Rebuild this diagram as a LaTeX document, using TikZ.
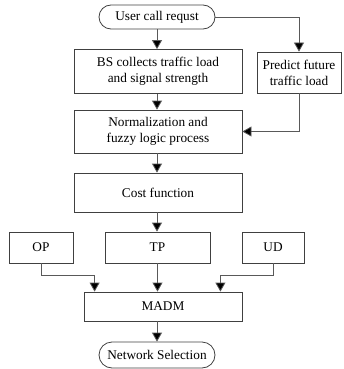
\documentclass[tikz,border=0pt]{standalone}
\usepackage{fontspec}
\setmainfont{Liberation Serif}
\usetikzlibrary{shapes.misc,arrows.meta}
\begin{document}
\begin{tikzpicture}[x=1pt,y=1pt,
  box/.style={draw=black!75, line width=0.8pt, minimum width=#1, align=center, inner sep=2pt, font=\fontsize{13.3}{16}\selectfont},
  term/.style={draw=black!75, line width=0.8pt, rounded rectangle, minimum width=#1, inner sep=2pt, font=\fontsize{13.3}{16}\selectfont},
  conn/.style={draw=black!65, line width=0.8pt, -{Triangle[width=10pt,length=9pt,fill=black]}}
]
\useasboundingbox (0,0) rectangle (343,-369);
\node[term=120pt, minimum height=24pt] (uc) at (157,-17) {User call requst};
\node[box=168pt, minimum height=44pt] (bs) at (158,-71.5) {BS collects traffic load\\and signal strength};
\node[box=84pt, minimum height=41pt] (pr) at (299,-72.5) {Predict future\\traffic load};
\node[box=168pt, minimum height=43pt] (nm) at (158,-131.5) {Normalization and\\fuzzy logic process};
\node[box=168pt, minimum height=39pt] (cf) at (158,-192.5) {Cost function};
\node[box=64pt, minimum height=31pt] (op) at (41,-247.5) {OP};
\node[box=105pt, minimum height=31pt] (tp) at (157.5,-247.5) {TP};
\node[box=62pt, minimum height=31pt] (ud) at (273,-247.5) {UD};
\node[box=158pt, minimum height=29pt] (md) at (163,-306.5) {MADM};
\node[term=120pt, minimum height=26pt] (ns) at (157,-355) {Network Selection};

\draw[conn] (uc.south) -- (uc.south |- bs.north);
\draw[conn] (uc.east) -| (pr.north);
\draw[conn] (uc.south |- bs.south) -- (uc.south |- nm.north);
\draw[conn] (pr.south) |- (nm.east);
\draw[conn] (uc.south |- nm.south) -- (uc.south |- cf.north);
\draw[conn] (uc.south |- cf.south) -- (uc.south |- tp.north);
\draw[conn] (op.south) -- ++(0,-12) -| ([xshift=11pt]md.north west);
\draw[conn] (tp.south) -- (tp.south |- md.north);
\draw[conn] (ud.south) -- ++(0,-12) -| ([xshift=-22pt]md.north east);
\draw[conn] (ns.north |- md.south) -- (ns.north);
\end{tikzpicture}
\end{document}
